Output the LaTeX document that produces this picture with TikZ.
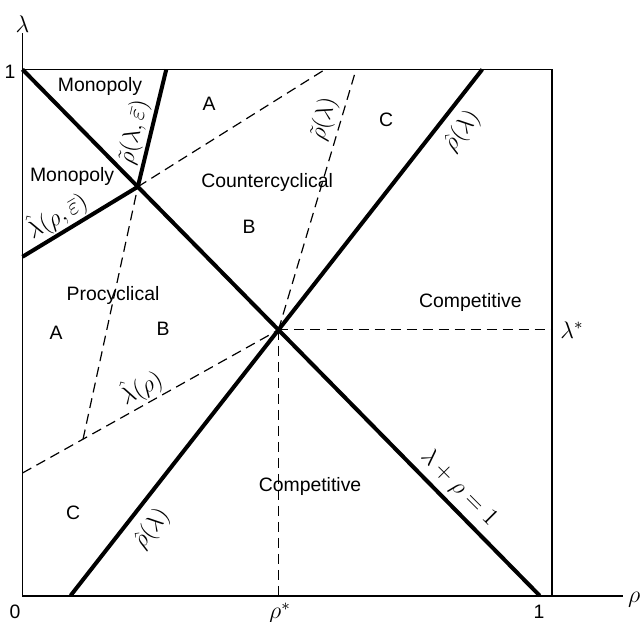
\documentclass[tikz,border=0pt]{standalone}
\usepackage{amsmath,amssymb}
\usepackage{fontspec}
\setmainfont{Liberation Sans}
\usepackage{tikz}
\usetikzlibrary{positioning}

\begin{document}
\begin{tikzpicture}[
  x=258.5pt, y=263pt,
  font=\fontsize{9.7}{11}\selectfont,
  axis/.style={line width=0.9pt},
  frame/.style={line width=0.6pt},
  bound/.style={line width=2pt},
  guide/.style={line width=0.6pt, dash pattern=on 5pt off 3pt},
  mlabel/.style={font=\fontsize{11.5}{13}\selectfont},
  every node/.style={inner sep=1pt}
]
\useasboundingbox (-0.0435,-0.0485) rectangle (1.196,1.132);

% key points of the diagram
\coordinate (O)     at (0,0);
\coordinate (L1)    at (0,1);
\coordinate (R1)    at (1,0);
\coordinate (S)     at (0.495,0.505);   % (rho*, lambda*)
\coordinate (T)     at (0.223,0.777);   % triple point
\coordinate (K)     at (0.117,0.297);
\coordinate (Ltop)  at (0,1.069);
\coordinate (Rend)  at (1.1615,0);
\coordinate (BR)    at (1.024,0);
\coordinate (TR)    at (1.024,1);
\coordinate (Sfoot) at (0.495,0);
\coordinate (Sside) at (1.024,0.505);

% axes and frame
\draw[axis] (Ltop) -- (O) -- (Rend);
\draw[frame] (L1) -- (TR) -- (BR);

% dashed guides
\draw[guide] (0,0.233) -- (S);
\draw[guide] (K) -- (T);
\draw[guide] (T) -- (0.585,1);
\draw[guide] (S) -- (0.645,1);
\draw[guide] (S) -- (Sside);
\draw[guide] (S) -- (Sfoot);

% boundaries
\draw[bound] (L1) -- (R1);
\draw[bound] (0.093,0) -- (0.889,1);
\draw[bound] (T) -- (0.278,1);
\draw[bound] (0,0.644) -- (T);

% axis labels
\node[mlabel] (lam)   at (0,1.087) {$\lambda$};
\node[mlabel] (rho)   at (1.183,-0.007) {$\rho$};
\node (one1)  at (-0.024,0.995) {1};
\node (zero)  at (-0.0145,-0.031) {0};
\node[mlabel] (rstar) at (0.498,-0.033) {$\rho^{*}$};
\node (one2)  at (0.999,-0.031) {1};
\node[mlabel] (lstar) [right=3pt of Sside] {$\lambda^{*}$};

% regions
\node (mono1)   at (0.150,0.967) {Monopoly};
\node (mono2)   at (0.096,0.796) {Monopoly};
\node (regA1)   at (0.361,0.934) {A};
\node (counter) at (0.473,0.786) {Countercyclical};
\node (regB1)   at (0.438,0.700) {B};
\node (regC1)   at (0.703,0.904) {C};
\node (pro)     at (0.175,0.571) {Procyclical};
\node (regA2)   at (0.065,0.499) {A};
\node (regB2)   at (0.272,0.507) {B};
\node (regC2)   at (0.098,0.157) {C};
\node (comp1)   at (0.866,0.558) {Competitive};
\node (comp2)   at (0.556,0.208) {Competitive};

% curve labels
\node[mlabel,rotate=77]  (rtle) at (0.216,0.881) {$\tilde{\rho}(\lambda,\bar{\varepsilon})$};
\node[mlabel,rotate=31]  (lhre) at (0.066,0.722) {$\hat{\lambda}(\rho,\bar{\varepsilon})$};
\node[mlabel,rotate=74]  (rtl)  at (0.583,0.906) {$\tilde{\rho}(\lambda)$};
\node[mlabel,rotate=52]  (rhl1) at (0.850,0.883) {$\hat{\rho}(\lambda)$};
\node[mlabel,rotate=29]  (lhr)  at (0.229,0.396) {$\hat{\lambda}(\rho)$};
\node[mlabel,rotate=52]  (rhl2) at (0.250,0.127) {$\hat{\rho}(\lambda)$};
\node[mlabel,rotate=-45] (sum)  at (0.844,0.205) {$\lambda+\rho=1$};
\end{tikzpicture}
\end{document}
